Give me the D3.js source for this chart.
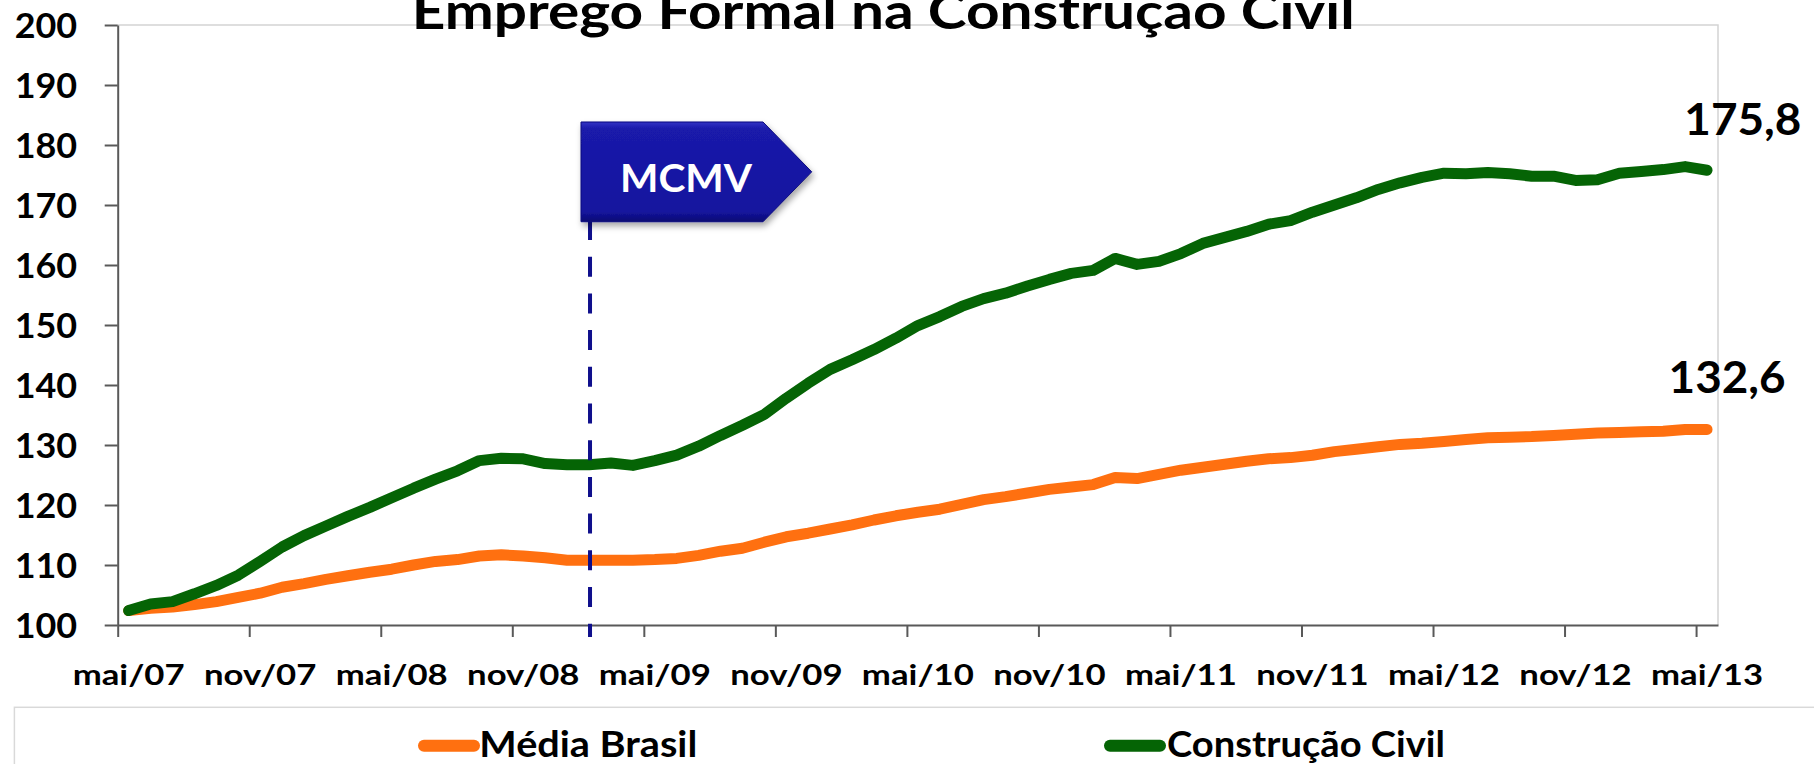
<!DOCTYPE html>
<html><head><meta charset="utf-8">
<script src="https://cdn.jsdelivr.net/npm/d3@7"></script>
<style>
html,body{margin:0;padding:0;background:#fff;overflow:hidden;}
svg{display:block;}
text{font-family:Lato,"Open Sans",sans-serif;font-weight:700;}
</style></head><body>
<svg id="chart" width="1814" height="764"></svg>
<script>
// ---------- data ----------
const title = "Emprego Formal na Construção Civil";
const monthAbbr = ["jan","fev","mar","abr","mai","jun","jul","ago","set","out","nov","dez"];
const months = d3.range(73).map(i => monthAbbr[(4 + i) % 12] + "/" + String(7 + Math.floor((4 + i) / 12)).padStart(2, "0"));
const tickLabels = ["mai/07","nov/07","mai/08","nov/08","mai/09","nov/09","mai/10","nov/10","mai/11","nov/11","mai/12","nov/12","mai/13"];
const yTicks = [100,110,120,130,140,150,160,170,180,190,200];
const seriesNames = ["Média Brasil","Construção Civil"];
const mediaBrasil = [102.4,102.8,103.0,103.4,103.9,104.6,105.3,106.3,106.9,107.6,108.2,108.8,109.3,110.0,110.6,110.9,111.5,111.7,111.5,111.2,110.8,110.8,110.8,110.8,110.9,111.1,111.6,112.3,112.8,113.8,114.7,115.3,116.0,116.7,117.5,118.2,118.8,119.3,120.1,120.9,121.4,122.0,122.6,123.0,123.4,124.6,124.4,125.1,125.8,126.3,126.8,127.3,127.7,127.9,128.3,128.9,129.3,129.7,130.1,130.3,130.6,130.9,131.2,131.3,131.4,131.6,131.8,132.0,132.1,132.2,132.3,132.6,132.6];
const construcaoCivil = [102.4,103.5,103.9,105.2,106.6,108.3,110.6,113.0,114.9,116.5,118.1,119.6,121.2,122.8,124.3,125.7,127.4,127.8,127.7,126.9,126.7,126.7,127.0,126.6,127.4,128.3,129.8,131.6,133.3,135.1,137.8,140.3,142.6,144.2,145.9,147.8,149.9,151.4,153.1,154.4,155.3,156.5,157.6,158.6,159.1,161.1,160.1,160.6,161.9,163.6,164.6,165.6,166.8,167.4,168.8,170.0,171.2,172.6,173.7,174.6,175.3,175.2,175.4,175.2,174.8,174.8,174.1,174.2,175.3,175.6,175.9,176.4,175.8];
const endLabels = ["132,6","175,8"];
const annotationMonth = "fev/09";
const annotationText = "MCMV";

// ---------- layout ----------
const colors = ["#ff7010", "#056405"];
const svg = d3.select("#chart");
const L = 117.7, R = 1718, T = 25, B = 625;

const x = d3.scaleBand().domain(months).range([L, R]).paddingInner(0).paddingOuter(0);
const bw = x.bandwidth();
const xc = m => x(m) + bw / 2;
const y = d3.scaleLinear().domain([100, 200]).range([B, T]);

function stretch(sel, sx) {
  sel.each(function () {
    const w = this.getComputedTextLength();
    this.setAttribute("textLength", w * sx);
    this.setAttribute("lengthAdjust", "spacingAndGlyphs");
  });
}
function fitTo(sel, target) {
  const w = sel.node().getComputedTextLength();
  return target / w;
}

const defs = svg.append("defs");
const grad = defs.append("linearGradient").attr("id", "boxg").attr("x1", 0).attr("y1", 0).attr("x2", 0).attr("y2", 1);
grad.append("stop").attr("offset", "0%").attr("stop-color", "#3434c4");
grad.append("stop").attr("offset", "7%").attr("stop-color", "#1a1aaa");
grad.append("stop").attr("offset", "90%").attr("stop-color", "#14149e");
grad.append("stop").attr("offset", "100%").attr("stop-color", "#0a0a72");
const filt = defs.append("filter").attr("id", "shadow").attr("x", "-20%").attr("y", "-20%").attr("width", "150%").attr("height", "160%");
filt.append("feDropShadow").attr("dx", 2).attr("dy", 4).attr("stdDeviation", 3).attr("flood-color", "#000").attr("flood-opacity", 0.35);

// plot border (top, right)
svg.append("path")
  .attr("d", `M${L},${T}H${R}V${B}`)
  .attr("fill", "none").attr("stroke", "#d4d4d4").attr("stroke-width", 1.5);

// Title
svg.append("text")
  .attr("x", 411.7).attr("y", 28.5)
  .attr("font-size", 49).attr("fill", "#000")
  .attr("textLength", 943).attr("lengthAdjust", "spacingAndGlyphs")
  .text(title);

// Y axis
const yAxis = svg.append("g").attr("transform", `translate(${L},0)`)
  .call(d3.axisLeft(y).tickValues(yTicks).tickSize(13).tickSizeOuter(0).tickPadding(27.5));
yAxis.select(".domain").attr("stroke", "#595959").attr("stroke-width", 2);
yAxis.selectAll(".tick line").attr("stroke", "#595959").attr("stroke-width", 2);
const yt = yAxis.selectAll(".tick text").attr("font-size", 35).attr("fill", "#000")
  .attr("font-family", "Lato,'Open Sans',sans-serif").attr("font-weight", 700).attr("dy", "0.36em");
const syY = fitTo(yAxis.selectAll(".tick text").filter(d => d === 200), 62.5);
stretch(yt, syY);

// X axis: tick marks at band starts
const xEdge = d3.scaleLinear().domain([0, months.length]).range([L, R]);
const tickIdx = tickLabels.map(t => months.indexOf(t));
const xTicks = svg.append("g").attr("transform", `translate(0,${B})`)
  .call(d3.axisBottom(xEdge).tickValues(tickIdx).tickSize(12).tickSizeOuter(0).tickFormat(""));
xTicks.select(".domain").attr("stroke", "#595959").attr("stroke-width", 2);
xTicks.selectAll(".tick line").attr("stroke", "#595959").attr("stroke-width", 2);
// X labels centered on bands
const xLab = svg.append("g").attr("transform", `translate(0,${B})`)
  .call(d3.axisBottom(x).tickValues(tickLabels).tickSize(0).tickPadding(0));
xLab.select(".domain").remove();
const xt = xLab.selectAll(".tick text").attr("font-size", 29).attr("fill", "#000")
  .attr("font-family", "Lato,'Open Sans',sans-serif").attr("font-weight", 700)
  .attr("dy", 0).attr("y", 60);
const sxX = fitTo(xLab.selectAll(".tick text").filter(d => d === "mai/07"), 112);
stretch(xt, sxX);

// Lines
const line = d3.line().x((d, i) => xc(months[i])).y(d => y(d));
const series = [mediaBrasil, construcaoCivil];
series.forEach((s, k) => {
  svg.append("path").datum(s).attr("d", line)
    .attr("fill", "none").attr("stroke", colors[k]).attr("stroke-width", 11)
    .attr("stroke-linejoin", "round").attr("stroke-linecap", "round");
});

// Annotation
const ax = xc(annotationMonth) + 1;
svg.append("line").attr("x1", ax).attr("x2", ax).attr("y1", 220).attr("y2", 637)
  .attr("stroke", "#0f0f8c").attr("stroke-width", 4).attr("stroke-dasharray", "20,16.7");
const bx0 = ax - 9, bx1 = bx0 + 182, btip = bx0 + 230.7, by0 = 122, by1 = 221.7;
svg.append("path")
  .attr("d", `M${bx0},${by0}H${bx1}L${btip},${(by0 + by1) / 2}L${bx1},${by1}H${bx0}Z`)
  .attr("fill", "url(#boxg)").attr("stroke", "#0c0c7e").attr("stroke-width", 1)
  .attr("filter", "url(#shadow)");
const mt = svg.append("text").attr("x", bx0 + 105).attr("y", 192.3)
  .attr("text-anchor", "middle").attr("font-size", 39).attr("fill", "#fff").text(annotationText);
mt.attr("textLength", 132).attr("lengthAdjust", "spacingAndGlyphs");

// End labels
const last = months[months.length - 1];
const labOff = [[-38.4, -36], [-22.7, -35]];
series.forEach((s, k) => {
  svg.append("text")
    .attr("x", xc(last) + labOff[k][0]).attr("y", y(s[s.length - 1]) + labOff[k][1])
    .attr("font-size", 44).attr("fill", "#000")
    .attr("textLength", 117).attr("lengthAdjust", "spacingAndGlyphs")
    .text(endLabels[k]);
});

// Legend
svg.append("rect").attr("x", 14.4).attr("y", 707.3).attr("width", 1900).attr("height", 120)
  .attr("fill", "none").attr("stroke", "#d9d9d9").attr("stroke-width", 1.5);
const legPos = [{sx: 424, tx: 479.3, w: 218}, {sx: 1110, tx: 1167, w: 278}];
seriesNames.forEach((n, k) => {
  svg.append("line").attr("x1", legPos[k].sx).attr("x2", legPos[k].sx + 50)
    .attr("y1", 745.7).attr("y2", 745.7)
    .attr("stroke", colors[k]).attr("stroke-width", 12).attr("stroke-linecap", "round");
  svg.append("text").attr("x", legPos[k].tx).attr("y", 756.7)
    .attr("font-size", 37).attr("fill", "#000")
    .attr("textLength", legPos[k].w).attr("lengthAdjust", "spacingAndGlyphs")
    .text(n);
});
</script>
</body></html>
